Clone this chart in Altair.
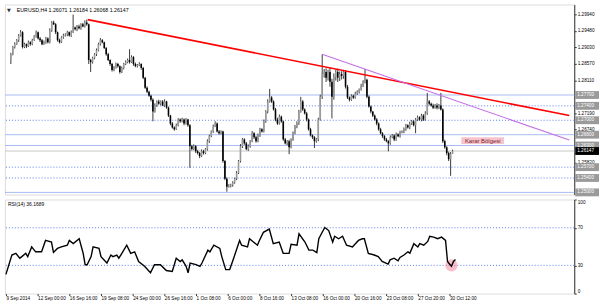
import altair as alt
import pandas as pd

# ---------------- data ----------------
symbol = "EURUSD,H4"
header_ohlc = [1.26071, 1.26184, 1.26068, 1.26147]   # O H L C of the last bar
first_open = 1.2870

closes = [
    1.2883, 1.2903, 1.2911, 1.2922, 1.2935, 1.2944, 1.2903, 1.2911, 1.2905, 1.2916,
    1.2911, 1.2922, 1.2933, 1.2944, 1.2927, 1.2922, 1.2911, 1.2916, 1.2927, 1.2916,
    1.2949, 1.2971, 1.2966, 1.2944, 1.2922, 1.2916, 1.2930, 1.2935, 1.2938, 1.2944,
    1.2935, 1.2944, 1.2957, 1.2952, 1.2960, 1.2955, 1.2966, 1.2960, 1.2971, 1.2966,
    1.2867, 1.2861, 1.2872, 1.2883, 1.2894, 1.2911, 1.2922, 1.2916, 1.2900, 1.2883,
    1.2867, 1.2856, 1.2839, 1.2845, 1.2856, 1.2850, 1.2834, 1.2845, 1.2856, 1.2861,
    1.2867, 1.2861, 1.2875, 1.2856, 1.2850, 1.2853, 1.2856, 1.2845, 1.2818, 1.2790,
    1.2779, 1.2768, 1.2757, 1.2724, 1.2741, 1.2752, 1.2746, 1.2752, 1.2741, 1.2752,
    1.2735, 1.2713, 1.2691, 1.2680, 1.2675, 1.2686, 1.2702, 1.2697, 1.2702, 1.2691,
    1.2702, 1.2686, 1.2628, 1.2620, 1.2628, 1.2614, 1.2609, 1.2601, 1.2614, 1.2609,
    1.2620, 1.2642, 1.2656, 1.2669, 1.2683, 1.2691, 1.2669, 1.2664, 1.2669, 1.2587,
    1.2538, 1.2516, 1.2518, 1.2521, 1.2527, 1.2538, 1.2554, 1.2587, 1.2628, 1.2647,
    1.2636, 1.2620, 1.2628, 1.2642, 1.2664, 1.2653, 1.2642, 1.2658, 1.2675, 1.2669,
    1.2697, 1.2724, 1.2752, 1.2763, 1.2752, 1.2730, 1.2702, 1.2691, 1.2710, 1.2697,
    1.2647, 1.2636, 1.2642, 1.2625, 1.2647, 1.2664, 1.2683, 1.2691, 1.2724, 1.2752,
    1.2730, 1.2719, 1.2702, 1.2675, 1.2658, 1.2653, 1.2642, 1.2647, 1.2702, 1.2765,
    1.2828, 1.2834, 1.2818, 1.2834, 1.2807, 1.2765, 1.2820, 1.2834, 1.2818, 1.2828,
    1.2823, 1.2834, 1.2793, 1.2763, 1.2757, 1.2768, 1.2763, 1.2774, 1.2779, 1.2785,
    1.2796, 1.2807, 1.2812, 1.2765, 1.2738, 1.2724, 1.2713, 1.2702, 1.2691, 1.2675,
    1.2664, 1.2656, 1.2647, 1.2642, 1.2636, 1.2653, 1.2658, 1.2647, 1.2661, 1.2656,
    1.2667, 1.2669, 1.2675, 1.2686, 1.2680, 1.2691, 1.2697, 1.2686, 1.2702, 1.2708,
    1.2702, 1.2713, 1.2702, 1.2719, 1.2752, 1.2746, 1.2741, 1.2735, 1.2741, 1.2735,
    1.2741, 1.2730, 1.2642, 1.2625, 1.2609, 1.2592, 1.2607,
]

upper_wick_pips = [
    4, 3, 5, 3, 4, 6, 3, 4, 2, 5,
    3, 4, 3, 5, 2, 4, 3, 5, 4, 3,
    6, 4, 5, 3, 2, 4, 3, 5, 3, 4,
    2, 5, 36, 3, 4, 5, 3, 4, 6, 8,
    2, 3, 4, 3, 5, 4, 6, 3, 2, 3,
    4, 2, 3, 5, 4, 3, 2, 4, 3, 5,
    4, 30, 5, 3, 4, 3, 5, 2, 3, 2,
    4, 3, 3, 4, 6, 3, 5, 3, 4, 6,
    2, 3, 2, 4, 3, 5, 4, 3, 5, 3,
    4, 2, 3, 4, 5, 3, 4, 3, 5, 4,
    3, 5, 4, 3, 5, 6, 3, 4, 3, 2,
    3, 4, 5, 3, 4, 3, 5, 3, 6, 4,
    3, 4, 5, 3, 6, 3, 4, 5, 4, 3,
    5, 4, 6, 24, 4, 3, 4, 5, 6, 3,
    2, 4, 3, 4, 3, 5, 4, 6, 5, 13,
    4, 3, 4, 3, 4, 3, 3, 4, 5, 6,
    55, 8, 10, 6, 12, 8, 10, 6, 9, 7,
    8, 6, 4, 5, 3, 4, 3, 5, 4, 3,
    5, 4, 30, 3, 4, 3, 2, 3, 4, 3,
    4, 3, 3, 4, 3, 5, 4, 3, 5, 3,
    4, 3, 5, 4, 3, 5, 4, 3, 4, 5,
    3, 5, 4, 6, 24, 4, 3, 5, 4, 6,
    4, 35, 3, 4, 3, 4, 5,
]

lower_wick_pips = [
    14, 3, 4, 2, 5, 3, 4, 3, 5, 2,
    4, 3, 2, 4, 3, 5, 3, 2, 4, 3,
    3, 4, 2, 5, 4, 3, 2, 4, 3, 5,
    3, 4, 2, 3, 5, 3, 4, 2, 3, 4,
    11, 27, 4, 3, 5, 3, 4, 3, 2, 4,
    3, 5, 4, 3, 2, 4, 5, 3, 4, 3,
    3, 4, 2, 5, 3, 4, 3, 5, 4, 3,
    4, 3, 5, 27, 3, 4, 3, 5, 2, 4,
    3, 4, 5, 3, 4, 2, 3, 4, 3, 5,
    3, 4, 60, 4, 3, 5, 4, 6, 3, 4,
    3, 4, 5, 3, 4, 2, 3, 4, 3, 5,
    4, 14, 3, 4, 5, 3, 4, 3, 4, 5,
    4, 3, 5, 4, 3, 5, 4, 3, 4, 3,
    3, 4, 5, 3, 4, 3, 5, 4, 3, 4,
    4, 3, 5, 19, 3, 4, 3, 5, 4, 3,
    4, 3, 5, 4, 3, 5, 19, 4, 5, 3,
    6, 10, 12, 8, 14, 60, 8, 10, 12, 9,
    10, 8, 5, 4, 5, 3, 4, 3, 4, 5,
    3, 4, 5, 4, 3, 5, 4, 3, 5, 4,
    3, 5, 4, 3, 22, 4, 3, 5, 4, 3,
    4, 3, 5, 4, 3, 5, 4, 3, 22, 4,
    3, 5, 4, 3, 4, 5, 3, 4, 3, 5,
    4, 3, 5, 4, 6, 5, 46,
]

x_tick_bars = [0, 16, 32, 48, 64, 80, 96, 112, 128, 144, 160, 176, 192, 208, 224]
x_tick_labels = ["9 Sep 2014", "12 Sep 00:00", "16 Sep 16:00", "19 Sep 08:00",
                 "24 Sep 00:00", "26 Sep 16:00", "1 Oct 08:00", "6 Oct 00:00",
                 "8 Oct 16:00", "13 Oct 08:00", "16 Oct 00:00", "20 Oct 16:00",
                 "23 Oct 08:00", "27 Oct 20:00", "30 Oct 12:00"]

price_ticks = [1.29940, 1.29480, 1.29030, 1.28570, 1.28110, 1.27190, 1.26740, 1.25820]
solid_levels = [1.27700, 1.26600, 1.26300, 1.25000]
dotted_levels = [1.27400, 1.27000, 1.25700, 1.25400]
current_price = 1.26147

red_line_bars = [39.5, 287]
red_line_prices = [1.2979, 1.2713]
purple_line_bars = [160, 287]
purple_line_prices = [1.2883, 1.2645]

zone_label = "Karar Bölgesi"
zone_bars = [231.5, 253.5]
zone_prices = [1.2634, 1.2653]

rsi_title = "RSI(14) 36.1689"
rsi_bars = [0, 3, 5, 7, 8, 10, 11, 13, 15, 18, 20, 23, 24, 26, 28, 31, 32, 34, 37, 39,
            40, 41, 43, 44, 47, 48, 51, 53, 54, 56, 57, 58, 61, 63, 65, 67, 70, 73, 75, 78,
            81, 84, 86, 88, 89, 91, 92, 93, 96, 98, 99, 102, 103, 105, 108, 109, 111, 113, 115, 118,
            119, 122, 123, 125, 127, 128, 130, 133, 135, 138, 140, 143, 144, 147, 148, 151, 153, 155, 157, 158,
            161, 163, 165, 166, 168, 170, 172, 175, 178, 180, 181, 183, 186, 188, 190, 193, 194, 196, 198, 199,
            201, 203, 204, 206, 208, 209, 211, 213, 214, 216, 218, 220, 222, 223, 224, 225, 226, 227]
rsi_values = [20.4, 41, 42.8, 37.6, 39.3, 42.8, 39.3, 49.6, 44.4, 44.4, 56.5, 54.8, 43.8, 48, 49.6, 51.4, 56.5, 53.1, 58.3, 42.8,
              30.7, 30.7, 39.3, 49.6, 48, 39.3, 32.5, 41, 39.3, 41, 37.6, 41, 51.4, 42.8, 44.4, 34.1, 29, 22.1, 30.7, 30.7,
              24.5, 23.6, 37.6, 34.1, 35.8, 29, 22.1, 32.5, 30.7, 29, 32.5, 46.2, 44.4, 51.4, 48, 39.3, 25.5, 25.5, 37.6, 56.5,
              51.4, 49.6, 58.3, 54.8, 51.4, 56.5, 65.1, 68.6, 53.1, 54.8, 42.8, 42.8, 52.3, 51.4, 63.5, 54.8, 46.2, 46.2, 43.5, 58.3,
              70.3, 67, 54.8, 61, 58.3, 61, 51.4, 49.6, 56.5, 58.3, 58.3, 42.8, 41, 39.3, 34.1, 31.4, 35.8, 37.6, 34.8, 38.4,
              41, 44.4, 43, 53.1, 49.6, 53.1, 51.4, 55.5, 61, 60, 58.3, 60, 56.5, 34.1, 31.4, 29, 34.1, 36.17]
rsi_levels = [30, 70]
rsi_ticks = [0, 30, 70, 100]
circle_bar = [225]
circle_rsi = [30]

# ---------------- tables ----------------
rows = []
prev = first_open
for i, c in enumerate(closes):
    o = prev
    rows.append(dict(bar=i, open=o, close=c,
                     high=max(o, c) + upper_wick_pips[i] / 10000,
                     low=min(o, c) - lower_wick_pips[i] / 10000))
    prev = c
rows.append(dict(bar=len(closes), open=header_ohlc[0], high=header_ohlc[1],
                 low=header_ohlc[2], close=header_ohlc[3]))
candles = pd.DataFrame(rows)
candles["dir"] = ["up" if c >= o else "down" for o, c in zip(candles["open"], candles["close"])]

box_df = pd.DataFrame({
    "price": solid_levels + dotted_levels + [current_price],
    "kind": ["level"] * (len(solid_levels) + len(dotted_levels)) + ["current"],
})
box_df["label"] = [f"{v:.5f}" for v in box_df["price"]]

FONT = "Liberation Sans"
W = 575
xs = alt.Scale(domain=[-0.5, 287], nice=False, zero=False)
ys = alt.Scale(domain=[1.2494, 1.3021], nice=False, zero=False)

price_axis = alt.Axis(orient="right", values=price_ticks, format=".5f", title=None,
                      labelFontSize=4.7, labelFont=FONT, labelColor="#000000",
                      tickSize=2, tickColor="#333333", domainColor="#333333",
                      labelPadding=1, grid=False, labelOverlap=False, labelFlush=False)


def X(field):
    return alt.X(field, type="quantitative", scale=xs, axis=None)


def Y(field):
    return alt.Y(field, type="quantitative", scale=ys, axis=price_axis)


solid = alt.Chart(pd.DataFrame({"price": solid_levels})).mark_rule(
    color="#a7bbf3", strokeWidth=1).encode(y=Y("price"))
dotted = alt.Chart(pd.DataFrame({"price": dotted_levels})).mark_rule(
    color="#5b7cec", strokeWidth=1, strokeDash=[1, 2]).encode(y=Y("price"))
cur = alt.Chart(pd.DataFrame({"price": [current_price]})).mark_rule(
    color="#c8c8c8", strokeWidth=1).encode(y=Y("price"))

zone_df = pd.DataFrame({"b0": [zone_bars[0]], "b1": [zone_bars[1]],
                        "p0": [zone_prices[0]], "p1": [zone_prices[1]],
                        "bm": [sum(zone_bars) / 2], "pm": [sum(zone_prices) / 2],
                        "t": [zone_label]})
zone_rect = alt.Chart(zone_df).mark_rect(color="#f6c4cd").encode(
    x=X("b0"), x2="b1", y=Y("p0"), y2="p1")
zone_text = alt.Chart(zone_df).mark_text(fontSize=6, font=FONT, color="#7a1f2e").encode(
    x=X("bm"), y=Y("pm"), text="t:N")

wicks = alt.Chart(candles).mark_rule(color="#3a3a3a", strokeWidth=1).encode(
    x=X("bar"), y=Y("low"), y2="high")
bodies = alt.Chart(candles).mark_bar(size=1.6).encode(
    x=X("bar"), y=Y("open"), y2="close",
    color=alt.Color("dir:N", scale=alt.Scale(domain=["up", "down"], range=["#9a9a9a", "#000000"]),
                    legend=None))

red = alt.Chart(pd.DataFrame({"bar": red_line_bars, "price": red_line_prices})).mark_line(
    color="#ff0000", strokeWidth=1.6).encode(x=X("bar"), y=Y("price"))
purple = alt.Chart(pd.DataFrame({"bar": purple_line_bars, "price": purple_line_prices})).mark_line(
    color="#c46ee8", strokeWidth=1.1).encode(x=X("bar"), y=Y("price"))

BOX = "M-1,-0.33H1V0.33H-1Z"
boxes = alt.Chart(box_df).mark_point(shape=BOX, filled=True, size=576, opacity=1).encode(
    x=alt.value(W + 13), y=Y("price"),
    color=alt.Color("kind:N", scale=alt.Scale(domain=["level", "current"], range=["#3563e9", "#000000"]),
                    legend=None))
box_text = alt.Chart(box_df).mark_text(align="left", baseline="middle", fontSize=4.7, font=FONT,
                                       color="#ffffff").encode(
    x=alt.value(W + 3), y=Y("price"), text="label:N")

header = alt.Chart(pd.DataFrame({"t": [symbol + "  " + " ".join(f"{v:.5f}" for v in header_ohlc)]})).mark_text(
    align="left", baseline="middle", fontSize=5.3, font=FONT, color="#000000").encode(
    x=alt.value(12), y=alt.value(6), text="t:N")
arrow = alt.Chart(pd.DataFrame({"t": ["▼"]})).mark_text(
    fontSize=5, font="DejaVu Sans", color="#333333").encode(x=alt.value(4), y=alt.value(6), text="t:N")

main = alt.layer(solid, dotted, cur, zone_rect, zone_text, wicks, bodies, red, purple,
                 boxes, box_text, header, arrow).properties(width=W, height=192)

# ---------------- RSI panel ----------------
labels_js = "[" + ",".join(f"'{s}'" for s in x_tick_labels) + "]"
bars_js = "[" + ",".join(str(b) for b in x_tick_bars) + "]"
x_axis = alt.Axis(orient="bottom", values=x_tick_bars, labelExpr=f"{labels_js}[indexof({bars_js}, datum.value)]",
                  labelAlign="left", labelFontSize=4.7, labelFont=FONT, labelColor="#000000",
                  tickSize=2, tickColor="#333333", domain=False, labelPadding=0, title=None,
                  grid=False, labelOverlap=False, labelFlush=False, labelBound=False)
rs = alt.Scale(domain=[0, 100], nice=False, zero=False)
rsi_axis = alt.Axis(orient="right", values=rsi_ticks, title=None, labelFontSize=4.7, labelFont=FONT,
                    labelColor="#000000", tickSize=2, tickColor="#333333", domainColor="#333333",
                    labelPadding=1, grid=False, labelFlush=True)


def RX(field):
    return alt.X(field, type="quantitative", scale=xs, axis=x_axis)


def RY(field):
    return alt.Y(field, type="quantitative", scale=rs, axis=rsi_axis)


rsi_df = pd.DataFrame({"bar": rsi_bars, "rsi": rsi_values})
rsi_lvl = alt.Chart(pd.DataFrame({"v": rsi_levels})).mark_rule(
    color="#5b7cec", strokeWidth=1, strokeDash=[1, 2]).encode(y=RY("v"))
rsi_line = alt.Chart(rsi_df).mark_line(color="#000000", strokeWidth=1.4).encode(
    x=RX("bar"), y=RY("rsi"))
circle = alt.Chart(pd.DataFrame({"bar": circle_bar, "rsi": circle_rsi})).mark_circle(
    size=150, color="#f28aa0", opacity=0.55).encode(x=RX("bar"), y=RY("rsi"))
rsi_txt = alt.Chart(pd.DataFrame({"t": [rsi_title]})).mark_text(
    align="left", baseline="middle", fontSize=5, font=FONT, color="#000000").encode(
    x=alt.value(3), y=alt.value(5), text="t:N")

rsi = alt.layer(rsi_lvl, circle, rsi_line, rsi_txt).properties(width=W, height=95)

chart = alt.vconcat(main, rsi, spacing=1).properties(
    padding={"left": 2, "top": 2, "right": 0, "bottom": 0},
    background="#ffffff",
).configure_view(stroke="#808080", strokeWidth=1).configure(font=FONT)

chart.save("out.html", embed_options={"renderer": "svg", "actions": False})
